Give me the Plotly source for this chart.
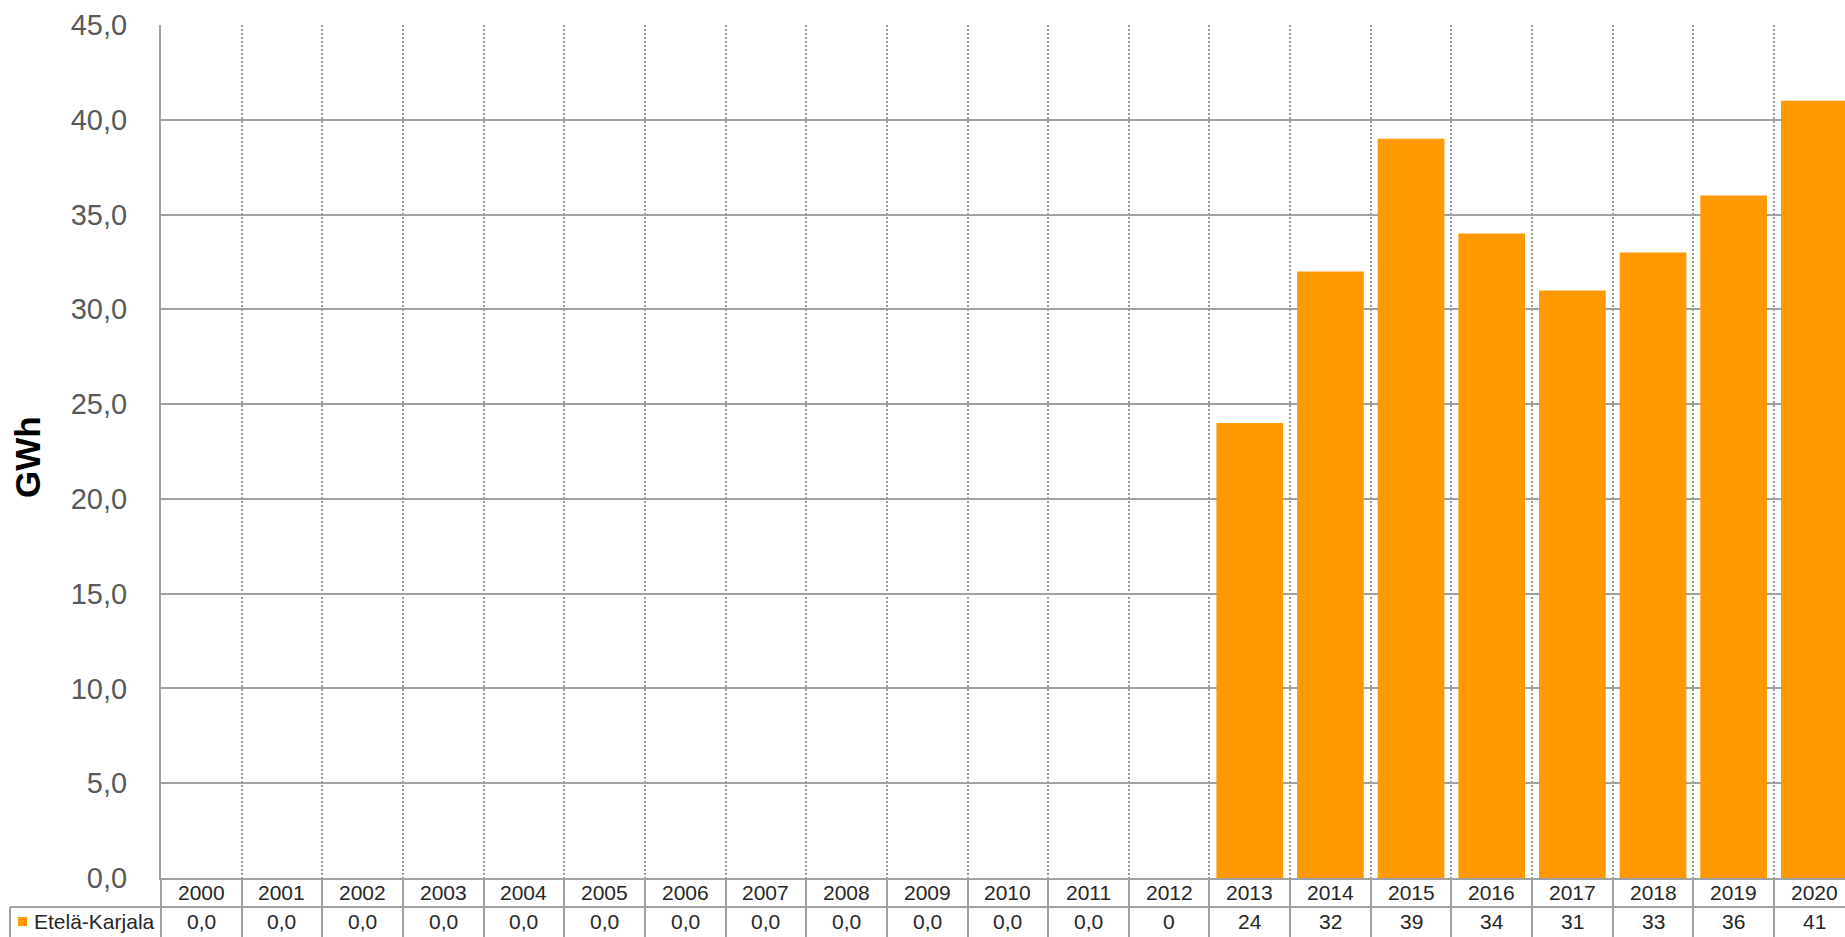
import plotly.graph_objects as go

# ---- data ----
years = [str(y) for y in range(2000, 2021)]
values = [0, 0, 0, 0, 0, 0, 0, 0, 0, 0, 0, 0, 0, 24, 32, 39, 34, 31, 33, 36, 41]
table_text = ["0,0"] * 12 + ["0", "24", "32", "39", "34", "31", "33", "36", "41"]
series_name = "Etelä-Karjala"
y_ticks = [0, 5, 10, 15, 20, 25, 30, 35, 40, 45]

# ---- layout constants ----
W, H = 1845, 937
L, R, T, B = 161, 0, 25, 59
PW, PH = W - L - R, H - T - B
COLW = 80.65
ORANGE = "#FF9900"
GRID = "#a0a0a0"
FONT = "Liberation Sans, Arial, sans-serif"

def px_x(px):
    return (px - L) / PW

def px_y(py):
    return (H - B - py) / PH

fig = go.Figure()
fig.add_trace(go.Bar(
    x=years, y=values, name=series_name,
    marker=dict(color=ORANGE, line=dict(width=0)),
    showlegend=False,
))

xmax = PW / COLW - 0.5

annotations = []
for i, (yr, txt) in enumerate(zip(years, table_text)):
    annotations.append(dict(x=i, y=px_y(892), xref="x", yref="paper", text=yr,
                            showarrow=False, xanchor="center", yanchor="middle",
                            font=dict(family=FONT, size=21, color="#262626")))
    annotations.append(dict(x=i, y=px_y(921), xref="x", yref="paper", text=txt,
                            showarrow=False, xanchor="center", yanchor="middle",
                            font=dict(family=FONT, size=21, color="#262626")))
annotations.append(dict(x=px_x(32), y=px_y(921), xref="paper", yref="paper", text=series_name,
                        showarrow=False, xanchor="left", yanchor="middle",
                        font=dict(family=FONT, size=21, color="#262626")))
annotations.append(dict(x=px_x(27), y=px_y(457), xref="paper", yref="paper", text="<b>GWh</b>",
                        showarrow=False, xanchor="center", yanchor="middle", textangle=-90,
                        font=dict(family=FONT, size=35, color="#000000")))

shapes = [
    # table horizontal line between year row and value row
    dict(type="line", xref="paper", yref="paper", x0=px_x(10), x1=1.0,
         y0=px_y(907), y1=px_y(907), line=dict(color=GRID, width=2)),
    # left border of series label cell
    dict(type="line", xref="paper", yref="paper", x0=px_x(10), x1=px_x(10),
         y0=px_y(907), y1=px_y(940), line=dict(color=GRID, width=2)),
    # legend key square
    dict(type="rect", xref="paper", yref="paper", x0=px_x(18), x1=px_x(27),
         y0=px_y(926), y1=px_y(917), fillcolor=ORANGE, line=dict(width=0)),
]

fig.update_layout(
    width=W, height=H,
    margin=dict(l=L, r=R, t=T, b=B, pad=0),
    paper_bgcolor="white", plot_bgcolor="white",
    separators=", ",
    bargap=0.173,
    annotations=annotations,
    shapes=shapes,
    xaxis=dict(
        type="category", range=[-0.5, xmax],
        tickson="boundaries", ticks="outside", ticklen=60, tickwidth=2, tickcolor=GRID,
        showticklabels=False,
        showgrid=True, gridcolor="#999999", gridwidth=2, griddash="2px,2px",
        showline=True, linecolor=GRID, linewidth=2,
        fixedrange=True,
    ),
    yaxis=dict(
        range=[0, 45], tickvals=y_ticks, tickformat=".1f",
        showgrid=True, gridcolor=GRID, gridwidth=2,
        showline=True, linecolor=GRID, linewidth=2,
        zeroline=False, ticks="",
        ticklabelstandoff=26,
        tickfont=dict(family=FONT, size=29, color="#595959"),
        fixedrange=True,
    ),
)

fig.write_html(
    "out.html",
    config={"displayModeBar": False},
    post_script="document.body.style.margin='0';document.body.style.overflow='hidden';",
)
